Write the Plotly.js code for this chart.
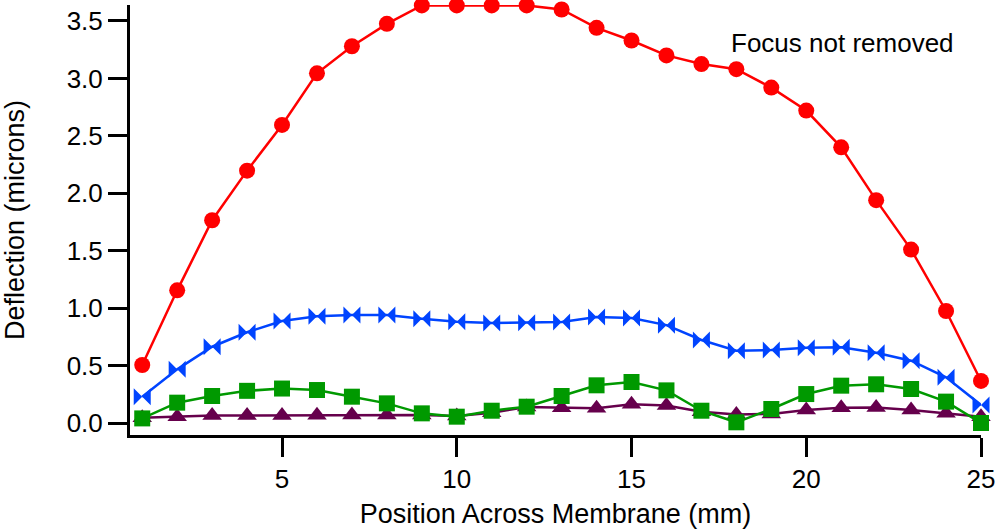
<!DOCTYPE html>
<html>
<head>
<meta charset="utf-8">
<script src="https://cdn.plot.ly/plotly-3.0.1.min.js"></script>
<style>html,body{margin:0;padding:0;background:#fff;}#chart{width:996px;height:529px;}</style>
</head>
<body>
<div id="chart"></div>
<script>
const positions = [1,2,3,4,5,6,7,8,9,10,11,12,13,14,15,16,17,18,19,20,21,22,23,24,25];
const focusNotRemoved = [0.505,1.155,1.765,2.197,2.595,3.044,3.28,3.475,3.635,3.635,3.635,3.635,3.60,3.44,3.33,3.20,3.125,3.08,2.92,2.72,2.40,1.94,1.51,0.975,0.366];
const seriesBlue = [0.229,0.467,0.664,0.79,0.888,0.93,0.94,0.94,0.908,0.882,0.87,0.873,0.88,0.923,0.914,0.852,0.723,0.63,0.635,0.656,0.66,0.612,0.542,0.398,0.157];
const seriesGreen = [0.04,0.177,0.235,0.28,0.30,0.287,0.229,0.171,0.084,0.055,0.107,0.142,0.235,0.328,0.357,0.284,0.107,0.006,0.122,0.252,0.325,0.337,0.296,0.186,0.0];
const seriesPurple = [0.045,0.055,0.065,0.065,0.066,0.067,0.07,0.07,0.07,0.06,0.09,0.14,0.133,0.128,0.163,0.152,0.098,0.075,0.078,0.113,0.133,0.135,0.113,0.084,0.055];
const annotationText = "Focus not removed";

const fam = '"Liberation Sans", Arial, Helvetica, sans-serif';
const tickFont = {family: fam, size: 26, color: '#000'};
const titleFont = {family: fam, size: 27, color: '#000'};
const annFont = {family: fam, size: 26, color: '#000'};

const traces = [
  {x: positions, y: seriesPurple, mode: 'lines+markers', line: {color: '#66004c', width: 2.5},
   marker: {symbol: 'triangle-up', size: 17, color: '#66004c'}, cliponaxis: false},
  {x: positions, y: seriesGreen, mode: 'lines+markers', line: {color: '#009900', width: 2.5},
   marker: {symbol: 'square', size: 16, color: '#009900'}, cliponaxis: false},
  {x: positions, y: seriesBlue, mode: 'lines+markers', line: {color: '#0044ff', width: 2.5},
   marker: {symbol: 'bowtie', size: 17, color: '#0044ff'}, cliponaxis: false},
  {x: positions, y: focusNotRemoved, mode: 'lines+markers', line: {color: '#ff0000', width: 2.5},
   marker: {symbol: 'circle', size: 16, color: '#ff0000'}, cliponaxis: false}
];

const layout = {
  width: 996, height: 529,
  margin: {l: 130, r: 15, t: 5, b: 94},
  paper_bgcolor: '#fff', plot_bgcolor: '#fff',
  showlegend: false,
  font: tickFont,
  xaxis: {
    range: [0.65, 25], tick0: 0, dtick: 5,
    showgrid: false, zeroline: false,
    showline: true, linecolor: '#000', linewidth: 3,
    ticks: 'outside', ticklen: 19, tickwidth: 3, tickcolor: '#000',
    tickfont: tickFont,
    title: {text: 'Position Across Membrane (mm)', font: titleFont, standoff: 19}
  },
  yaxis: {
    range: [-0.1045, 3.639], tick0: 0, dtick: 0.5, tickformat: '.1f',
    showgrid: false, zeroline: false,
    showline: true, linecolor: '#000', linewidth: 3,
    ticks: 'outside', ticklen: 19, tickwidth: 3, tickcolor: '#000',
    tickfont: tickFont,
    title: {text: 'Deflection (microns)', font: titleFont, standoff: 35}
  },
  annotations: [
    {x: 21.04, y: 3.31, xref: 'x', yref: 'y', text: annotationText, showarrow: false,
     xanchor: 'center', yanchor: 'middle', font: annFont}
  ]
};

Plotly.newPlot('chart', traces, layout, {displayModeBar: false, staticPlot: true});
</script>
</body>
</html>
